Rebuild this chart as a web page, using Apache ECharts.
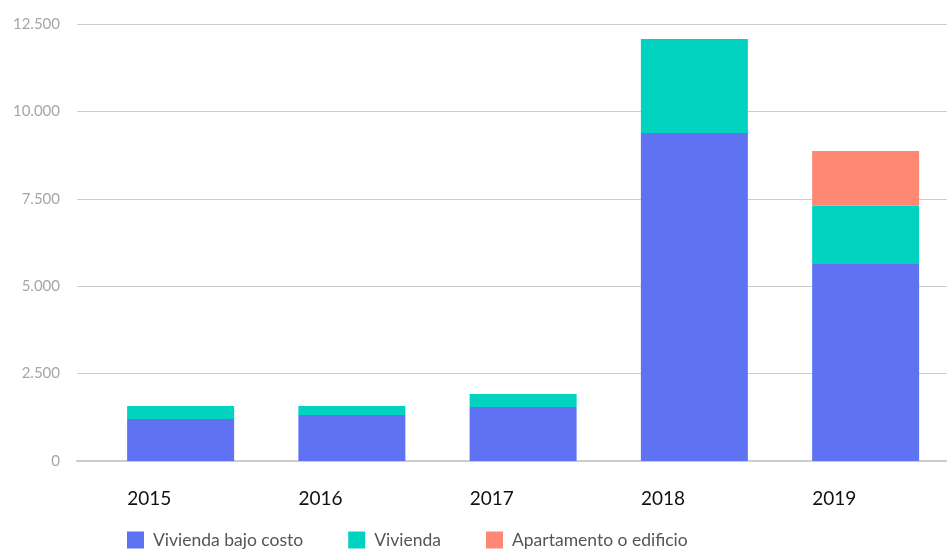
<!DOCTYPE html>
<html>
<head>
<meta charset="utf-8">
<script src="https://cdn.jsdelivr.net/npm/echarts@6/dist/echarts.min.js"></script>
<style>
  html, body { margin: 0; padding: 0; background: #ffffff; }
  #chart { width: 947px; height: 549px; }
</style>
</head>
<body>
<div id="chart"></div>
<script>
// Años y valores por tipo de vivienda
const years = ['2015', '2016', '2017', '2018', '2019'];
const viviendaBajoCosto = [1200, 1315, 1545, 9380, 5635];
const vivienda = [375, 260, 370, 2690, 1668];
const apartamento = [0, 0, 0, 0, 1564];
const yTicks = [0, 2500, 5000, 7500, 10000, 12500];

const FONT = 'Lato, "Noto Sans", sans-serif';
const yMin = yTicks[0];
const yMax = yTicks[yTicks.length - 1];
const yStep = yTicks[1] - yTicks[0];

const fmt = v => String(v).replace(/\B(?=(\d{3})+(?!\d))/g, '.');

const chart = echarts.init(document.getElementById('chart'), null, { renderer: 'canvas' });

chart.setOption({
  animation: false,
  backgroundColor: '#ffffff',
  textStyle: { fontFamily: FONT },
  grid: [
    // guide lines and value labels
    { left: 77, right: 0, top: 24, bottom: 88, containLabel: false },
    // bars (band runs slightly past the right edge)
    { left: 95, right: -4.25, top: 24, bottom: 88, containLabel: false, outerBoundsMode: 'none' }
  ],
  legend: {
    left: 122,
    top: 526,
    itemWidth: 17,
    itemHeight: 17,
    itemGap: 45,
    icon: 'rect',
    selectedMode: false,
    textStyle: { fontFamily: FONT, fontSize: 17.5, color: '#555555', padding: [0, 0, 0, 4] },
    data: ['Vivienda bajo costo', 'Vivienda', 'Apartamento o edificio']
  },
  xAxis: [
    {
      gridIndex: 0,
      type: 'category',
      data: years,
      axisLine: { show: true, lineStyle: { color: '#cccccc', width: 2 } },
      axisTick: { show: false },
      axisLabel: { show: false },
      splitLine: { show: false }
    },
    {
      gridIndex: 1,
      type: 'category',
      data: years,
      axisLine: { show: false },
      axisTick: { show: false },
      axisLabel: {
        margin: 28,
        formatter: v => '{y|' + v + '}',
        rich: {
          y: { width: 107, align: 'left', fontSize: 19, color: '#111111', fontFamily: FONT }
        }
      }
    }
  ],
  yAxis: [
    {
      gridIndex: 0,
      type: 'value',
      min: yMin,
      max: yMax,
      interval: yStep,
      axisLine: { show: false },
      axisTick: { show: false },
      axisLabel: {
        margin: 17,
        fontSize: 15,
        color: '#a6a6a6',
        fontFamily: FONT,
        formatter: fmt
      },
      splitLine: { show: true, lineStyle: { color: '#cccccc', width: 1 } }
    },
    {
      gridIndex: 1,
      type: 'value',
      min: yMin,
      max: yMax,
      interval: yStep,
      show: false,
      splitLine: { show: false }
    }
  ],
  series: [
    {
      name: 'Vivienda bajo costo',
      type: 'bar',
      stack: 'total',
      xAxisIndex: 1,
      yAxisIndex: 1,
      barWidth: 107,
      itemStyle: { color: '#5f73f2' },
      data: viviendaBajoCosto
    },
    {
      name: 'Vivienda',
      type: 'bar',
      stack: 'total',
      xAxisIndex: 1,
      yAxisIndex: 1,
      barWidth: 107,
      itemStyle: { color: '#02d3c1' },
      data: vivienda
    },
    {
      name: 'Apartamento o edificio',
      type: 'bar',
      stack: 'total',
      xAxisIndex: 1,
      yAxisIndex: 1,
      barWidth: 107,
      itemStyle: { color: '#ff8875' },
      data: apartamento
    }
  ]
});
</script>
</body>
</html>
